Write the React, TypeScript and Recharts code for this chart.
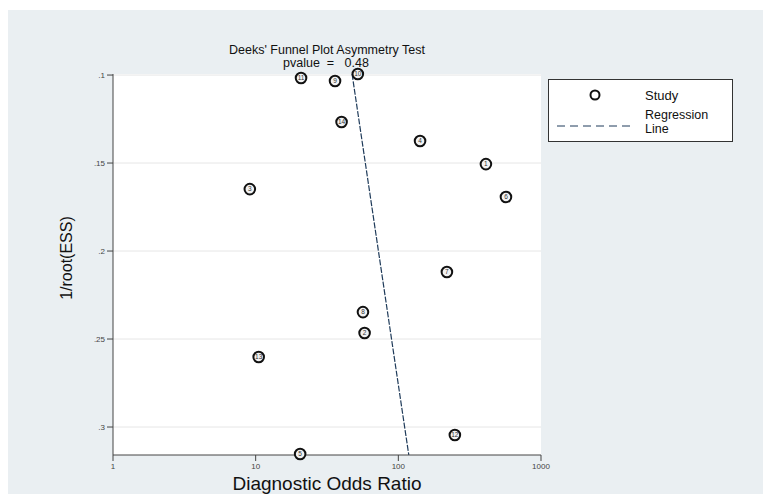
import React from 'react';
import {
  ComposedChart,
  Scatter,
  XAxis,
  YAxis,
  CartesianGrid,
  ReferenceLine,
} from 'recharts';

const studyIds = [1, 2, 3, 4, 5, 6, 7, 8, 9, 10, 11, 12, 13, 14];
const dorValues = [411, 58, 9.1, 142, 20.5, 568, 219, 56.5, 36, 52, 20.8, 249, 10.5, 40];
const essValues = [0.1506, 0.2466, 0.1648, 0.1375, 0.3153, 0.1693, 0.2119, 0.2347, 0.1034, 0.0994, 0.1017, 0.3045, 0.2602, 0.1267];

const regX = [47.4, 118.4];
const regY = [0.0994, 0.3159];

const xTicks = [1, 10, 100, 1000];
const yTicks = [0.1, 0.15, 0.2, 0.25, 0.3];

const titleText = "Deeks' Funnel Plot Asymmetry Test";
const pvalueText = 'pvalue  =   0.48';

const points = studyIds.map((id, i) => ({ id, x: dorValues[i], y: essValues[i] }));

const FONT = '"Liberation Sans", Arial, sans-serif';

const StudyMarker = (props: any) => {
  const { cx, cy, payload } = props;
  if (cx == null || cy == null) return null;
  return (
    <g>
      <circle cx={cx} cy={cy} r={5.3} fill="#f2f2f2" stroke="#111" strokeWidth={2} />
      <text
        x={cx}
        y={cy + 2.3}
        textAnchor="middle"
        fontSize={6.5}
        fontFamily={FONT}
        fill="#333"
      >
        {payload.id}
      </text>
    </g>
  );
};

export default function App() {
  return (
    <div
      style={{
        position: 'absolute',
        left: 8,
        top: 10,
        width: 755,
        height: 484,
        background: '#eaeff2',
        fontFamily: FONT,
      }}
    >
      <ComposedChart
        width={755}
        height={484}
        margin={{ top: 64, right: 222, bottom: 9, left: 50 }}
        style={{ position: 'absolute', left: 0, top: 0 }}
      >
        <CartesianGrid vertical={false} stroke="#e6e6e6" fill="#ffffff" horizontalValues={yTicks} />
        <XAxis
          type="number"
          dataKey="x"
          scale="log"
          domain={[1, 1000]}
          ticks={xTicks}
          height={30}
          axisLine={{ stroke: '#444' }}
          tickLine={{ stroke: '#444' }}
          tickSize={6}
          tick={{ fontSize: 8, fill: '#444', fontFamily: FONT }}
          label={(p: any) => (
            <text
              x={319}
              y={480}
              textAnchor="middle"
              fontSize={19}
              fontFamily={FONT}
              fill="#111"
            >
              Diagnostic Odds Ratio
            </text>
          )}
        />
        <YAxis
          type="number"
          dataKey="y"
          reversed
          domain={[regY[0], regY[1]]}
          ticks={yTicks}
          width={55}
          axisLine={{ stroke: '#444' }}
          tickLine={{ stroke: '#444' }}
          tickSize={6}
          tickFormatter={(v: number) => String(v).replace(/^0/, '')}
          tick={{ fontSize: 8, fill: '#444', fontFamily: FONT }}
          label={(p: any) => (
            <text
              x={64}
              y={248}
              transform="rotate(-90 64 248)"
              textAnchor="middle"
              fontSize={16}
              fontFamily={FONT}
              fill="#111"
            >
              1/root(ESS)
            </text>
          )}
        />
        <ReferenceLine
          segment={[
            { x: regX[0], y: regY[0] },
            { x: regX[1], y: regY[1] },
          ]}
          stroke="#1f3b5a"
          strokeWidth={1.2}
          strokeDasharray="6 1.5"
          ifOverflow="visible"
        />
        <Scatter
          data={points}
          dataKey="y"
          shape={StudyMarker}
          isAnimationActive={false}
        />
      </ComposedChart>
      <svg
        width={755}
        height={484}
        style={{ position: 'absolute', left: 0, top: 0, pointerEvents: 'none' }}
      >
        <text x={319} y={44} textAnchor="middle" fontSize={12.5} fontFamily={FONT} fill="#111">
          {titleText}
        </text>
        <text
          x={318}
          y={57}
          textAnchor="middle"
          fontSize={12.5}
          fontFamily={FONT}
          fill="#111"
          style={{ whiteSpace: 'pre' }}
        >
          {pvalueText}
        </text>
        <g transform="translate(540,69)">
          <rect x={0.5} y={0.5} width={184} height={62} fill="#ffffff" stroke="#333" strokeWidth={1} />
          <circle cx={47} cy={16} r={4.5} fill="none" stroke="#111" strokeWidth={2} />
          <text x={97} y={21} fontSize={13} fontFamily={FONT} fill="#111">
            Study
          </text>
          <line x1={9} y1={47} x2={82} y2={47} stroke="#1f3b5a" strokeWidth={1} strokeDasharray="8 5" />
          <text x={97} y={40} fontSize={12.5} fontFamily={FONT} fill="#111">
            Regression
          </text>
          <text x={97} y={53.5} fontSize={12.5} fontFamily={FONT} fill="#111">
            Line
          </text>
        </g>
      </svg>
    </div>
  );
}
